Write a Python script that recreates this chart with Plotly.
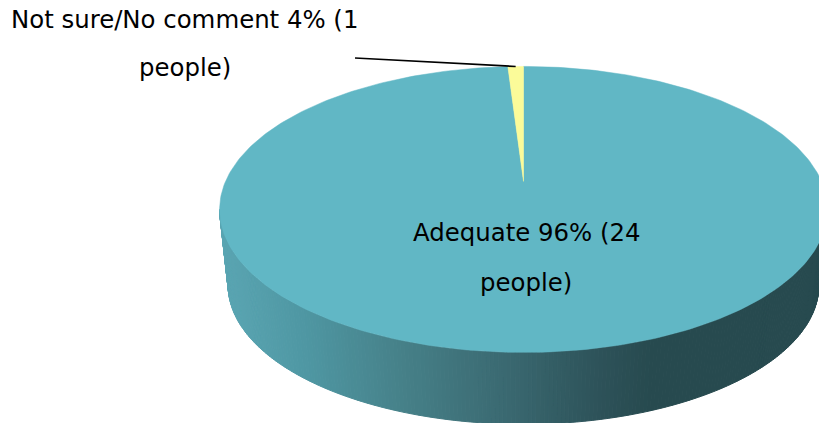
import numpy as np
import plotly.graph_objects as go

# ---- data ----
categories = ["Adequate", "Not sure/No comment"]
label_percent = [96, 4]
label_people = [24, 1]
drawn_share = [99.0, 1.0]   # the wedge as actually drawn is far thinner than its label
slice_colors = ["#61B7C5", "#FBFB99"]

# wall shading: x position -> colour
shade_x = [219, 300, 400, 500, 600, 650, 819]
shade_rgb = [(91, 166, 179), (79, 152, 164), (70, 129, 137), (59, 106, 114),
             (45, 82, 89), (39, 74, 79), (39, 74, 79)]

# ---- 3D-look projection ----
CX, Y0, A, B, K = 523.5, 181.4, 137.5, 298.0, -0.196
BOTTOM_Y0, BOTTOM_S = 258.0, 0.972


def project(theta, y0=Y0, s=1.0):
    u, v = np.sin(theta), -np.cos(theta)
    d = 1 + K * v
    return CX + s * B * u / d, y0 + s * A * v / d


fig = go.Figure()

# side wall: thin slats, each coloured by its x position
t0 = np.arccos(K)
edges = np.linspace(t0, 2 * np.pi - t0, 241)
for a, b in zip(edges[:-1], edges[1:]):
    ts = np.array([a, b])
    xt, yt = project(ts)
    xb, yb = project(ts[::-1], BOTTOM_Y0, BOTTOM_S)
    xm = (xt.mean() + xb.mean()) / 2
    rgb = [np.interp(xm, shade_x, [c[i] for c in shade_rgb]) for i in range(3)]
    col = f"rgb({rgb[0]:.0f},{rgb[1]:.0f},{rgb[2]:.0f})"
    fig.add_trace(go.Scatter(
        x=np.r_[xt, xb, xt[0]], y=np.r_[yt, yb, yt[0]], mode="lines", fill="toself",
        fillcolor=col, line=dict(color=col, width=1), hoverinfo="skip", showlegend=False))

# top face slices, clockwise from 12 o'clock
fractions = np.cumsum([0] + drawn_share) / sum(drawn_share)
for i, name in enumerate(categories):
    ts = 2 * np.pi * np.linspace(fractions[i], fractions[i + 1], 361)
    xs, ys = project(ts)
    fig.add_trace(go.Scatter(
        x=np.r_[CX, xs, CX], y=np.r_[Y0, ys, Y0], mode="lines", fill="toself", name=name,
        fillcolor=slice_colors[i], line=dict(color=slice_colors[i], width=0.5),
        hoverinfo="skip", showlegend=False))

# leader line from the small slice to its label
mid = 2 * np.pi * (fractions[1] + fractions[2]) / 2
mx, my = project(mid)
fig.add_trace(go.Scatter(x=[355, mx], y=[58, my], mode="lines",
                         line=dict(color="black", width=1.7),
                         hoverinfo="skip", showlegend=False))

FONT = dict(family="DejaVu Sans", size=24.4, color="black")
labels = [
    (184, 19, f"{categories[1]} {label_percent[1]}% ({label_people[1]}"),
    (185, 67, "people)"),
    (526, 232, f"{categories[0]} {label_percent[0]}% ({label_people[0]}"),
    (526, 282, "people)"),
]
for x, y, text in labels:
    fig.add_annotation(x=x, y=y, text=text, showarrow=False, font=FONT,
                       xanchor="center", yanchor="middle")

fig.update_layout(
    width=819, height=423, margin=dict(l=0, r=0, t=0, b=0),
    paper_bgcolor="white", plot_bgcolor="white", hovermode=False,
    xaxis=dict(range=[0, 819], visible=False, fixedrange=True),
    yaxis=dict(range=[423, 0], visible=False, fixedrange=True),
)
fig.write_html("out.html", config=dict(displayModeBar=False),
               post_script="document.body.style.margin='0';document.body.style.overflow='hidden';")
